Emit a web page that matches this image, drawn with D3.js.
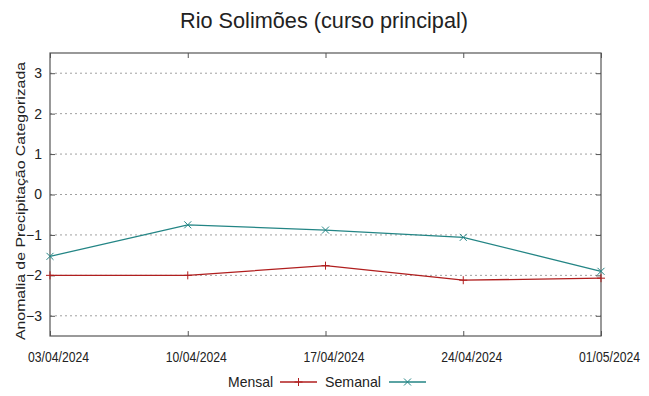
<!DOCTYPE html>
<html><head><meta charset="utf-8">
<script src="https://cdn.jsdelivr.net/npm/d3@7"></script>
<style>body{margin:0;background:#fff}svg{display:block}text{font-family:"Liberation Sans",Arial,sans-serif;fill:#222}</style>
</head><body><svg id="c" width="649" height="396"></svg>
<script>
const dates = ["03/04/2024","10/04/2024","17/04/2024","24/04/2024","01/05/2024"];
const mensal = [-2.00, -2.00, -1.76, -2.12, -2.07];
const semanal = [-1.53, -0.75, -0.88, -1.06, -1.90];
const yTicks = [-3,-2,-1,0,1,2,3];
const title = "Rio Solimões (curso principal)";
const yLabel = "Anomalia de Precipitação Categorizada";

const svg = d3.select("#c");
const L=50,R=601,T=53,B=336;
const parse = d3.timeParse("%d/%m/%Y");
const dd = dates.map(parse);
const x = d3.scaleTime().domain([dd[0], dd[dd.length-1]]).range([L,R]);
const y = d3.scaleLinear().domain([-3.5,3.5]).range([B,T]);

// grid
svg.append("g").selectAll("line").data(yTicks).join("line")
  .attr("x1",L).attr("x2",R).attr("y1",d=>y(d)).attr("y2",d=>y(d))
  .attr("stroke","#a0a0a0").attr("stroke-width",1).attr("stroke-dasharray","2,3");

// axes ticks (inner)
const axL = d3.axisLeft(y).tickValues(yTicks).tickSize(-5).tickPadding(8).tickFormat(d3.format("d"));
const gL = svg.append("g").attr("transform",`translate(${L},0)`).call(axL);
const axR = d3.axisRight(y).tickValues(yTicks).tickSize(-5).tickFormat("");
const gR = svg.append("g").attr("transform",`translate(${R},0)`).call(axR);
const axB = d3.axisBottom(x).tickValues(dd).tickSize(-5).tickPadding(0).tickFormat(d3.timeFormat("%d/%m/%Y"));
const gB = svg.append("g").attr("transform",`translate(0,${B})`).call(axB);
const axT = d3.axisTop(x).tickValues(dd).tickSize(-5).tickFormat("");
const gT = svg.append("g").attr("transform",`translate(0,${T})`).call(axT);
[gL,gR,gB,gT].forEach(g=>{g.select(".domain").remove();g.selectAll("line").attr("stroke","#555").attr("stroke-width",1);});
gL.selectAll("text").attr("font-size",14).attr("fill","#222").attr("font-family","Liberation Sans, Arial, sans-serif");
gB.selectAll("text").attr("font-size",14).attr("fill","#222").attr("font-family","Liberation Sans, Arial, sans-serif")
  .attr("dy",null).attr("y",26).attr("dx",8).attr("textLength",61).attr("lengthAdjust","spacingAndGlyphs");

// frame
svg.append("rect").attr("x",L).attr("y",T).attr("width",R-L).attr("height",B-T)
  .attr("fill","none").attr("stroke","#555").attr("stroke-width",1.2);

const cM="#b01e1e", cS="#238585";
const line = d3.line().x((d,i)=>x(dd[i])).y(d=>y(d));
svg.append("path").datum(mensal).attr("d",line).attr("fill","none").attr("stroke",cM).attr("stroke-width",1.3);
svg.append("path").datum(semanal).attr("d",line).attr("fill","none").attr("stroke",cS).attr("stroke-width",1.3);

const s=4;
svg.append("g").selectAll("path").data(mensal).join("path")
  .attr("d",(d,i)=>`M${x(dd[i])-s},${y(d)}h${2*s}M${x(dd[i])},${y(d)-s}v${2*s}`)
  .attr("stroke",cM).attr("stroke-width",1);
svg.append("g").selectAll("path").data(semanal).join("path")
  .attr("d",(d,i)=>`M${x(dd[i])-3.5},${y(d)-3.5}l7,7M${x(dd[i])-3.5},${y(d)+3.5}l7,-7`)
  .attr("stroke",cS).attr("stroke-width",1);

// title
svg.append("text").attr("x",180).attr("y",28).attr("font-size",22)
  .attr("textLength",288).attr("lengthAdjust","spacingAndGlyphs").text(title);
// y label
svg.append("text").attr("transform","translate(24.5,340) rotate(-90)").attr("font-size",13.5)
  .attr("textLength",278).attr("lengthAdjust","spacingAndGlyphs").text(yLabel);

// legend
const ly=382;
svg.append("text").attr("x",228).attr("y",ly+5).attr("font-size",15).attr("textLength",45).attr("lengthAdjust","spacingAndGlyphs").text("Mensal");
svg.append("line").attr("x1",280).attr("x2",317).attr("y1",ly).attr("y2",ly).attr("stroke",cM).attr("stroke-width",1.3);
svg.append("path").attr("d",`M${298.5-s},${ly}h${2*s}M298.5,${ly-s}v${2*s}`).attr("stroke",cM).attr("stroke-width",1);
svg.append("text").attr("x",325).attr("y",ly+5).attr("font-size",15).attr("textLength",56).attr("lengthAdjust","spacingAndGlyphs").text("Semanal");
svg.append("line").attr("x1",389).attr("x2",426).attr("y1",ly).attr("y2",ly).attr("stroke",cS).attr("stroke-width",1.3);
svg.append("path").attr("d",`M404,${ly-3.5}l7,7M404,${ly+3.5}l7,-7`).attr("stroke",cS).attr("stroke-width",1);
</script></body></html>
